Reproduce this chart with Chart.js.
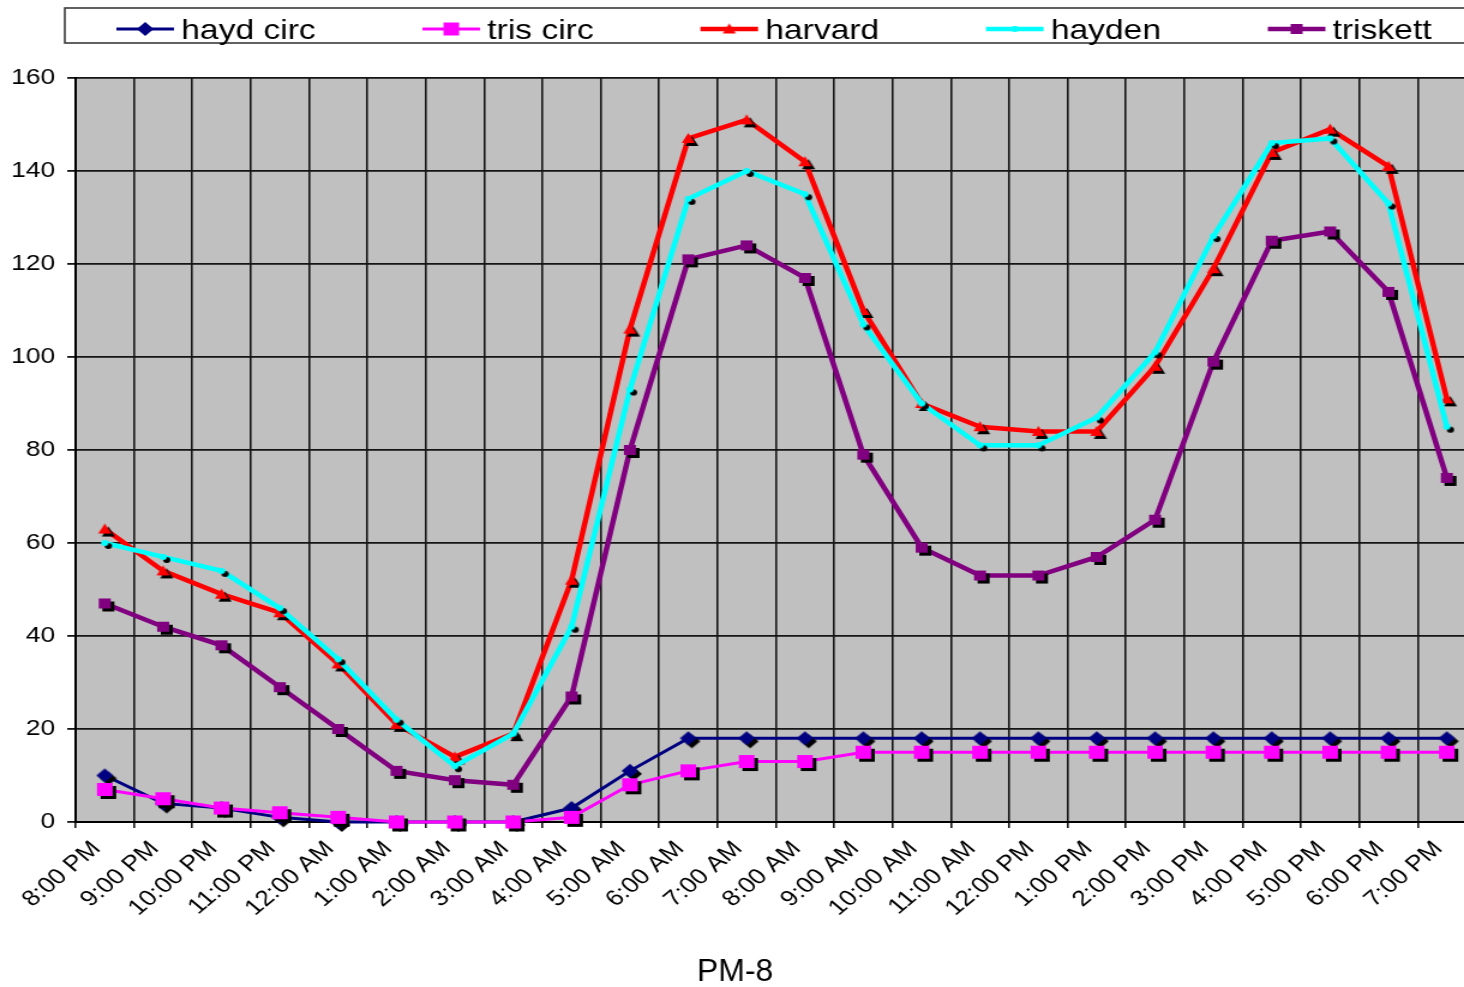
<!DOCTYPE html>
<html>
<head>
<meta charset="utf-8">
<title>PM-8</title>
<script src="https://cdn.jsdelivr.net/npm/chart.js@4.4.1/dist/chart.umd.min.js"></script>
<style>
  html, body { margin: 0; padding: 0; background: #fff; overflow: hidden; }
  #c { display: block; }
</style>
</head>
<body>
<!-- the original picture is stretched sideways, so the canvas is too (inline style so Chart.js keeps it) -->
<canvas id="c" width="1250" height="987" style="width:1500px;height:987px"></canvas>
<script>
const hours = ['8:00 PM', '9:00 PM', '10:00 PM', '11:00 PM', '12:00 AM', '1:00 AM', '2:00 AM', '3:00 AM',
  '4:00 AM', '5:00 AM', '6:00 AM', '7:00 AM', '8:00 AM', '9:00 AM', '10:00 AM', '11:00 AM',
  '12:00 PM', '1:00 PM', '2:00 PM', '3:00 PM', '4:00 PM', '5:00 PM', '6:00 PM', '7:00 PM'];

const haydCirc = [10, 4, 3, 1, 0, 0, 0, 0, 3, 11, 18, 18, 18, 18, 18, 18, 18, 18, 18, 18, 18, 18, 18, 18];
const trisCirc = [7, 5, 3, 2, 1, 0, 0, 0, 1, 8, 11, 13, 13, 15, 15, 15, 15, 15, 15, 15, 15, 15, 15, 15];
const harvard = [63, 54, 49, 45, 34, 21, 14, 19, 52, 106, 147, 151, 142, 110, 90, 85, 84, 84, 98, 119, 144, 149, 141, 91];
const hayden = [60, 57, 54, 46, 35, 22, 12, 19, 42, 93, 134, 140, 135, 107, 90, 81, 81, 87, 101, 126, 146, 147, 133, 85];
const triskett = [47, 42, 38, 29, 20, 11, 9, 8, 27, 80, 121, 124, 117, 79, 59, 53, 53, 57, 65, 99, 125, 127, 114, 74];

const captionText = 'PM-8';
const S = 1500 / 1250;

// small canvas used as point style, with the dark drop shadow Excel puts on markers
function marker(shape, r, color, shadow) {
  const off = shadow ? 3 : 0;
  const size = Math.ceil((r + off) * 2 + 2);
  const cv = document.createElement('canvas');
  cv.width = size;
  cv.height = size;
  const g = cv.getContext('2d');
  const c = size / 2;
  const path = (x, y) => {
    g.beginPath();
    if (shape === 'diamond') {
      g.moveTo(x, y - r); g.lineTo(x + r, y); g.lineTo(x, y + r); g.lineTo(x - r, y);
    } else if (shape === 'square') {
      g.rect(x - r, y - r, 2 * r, 2 * r);
    } else if (shape === 'triangle') {
      g.moveTo(x, y - r); g.lineTo(x + r, y + r * 0.8); g.lineTo(x - r, y + r * 0.8);
    } else {
      g.arc(x, y, r, 0, Math.PI * 2);
    }
    g.closePath();
  };
  if (shadow) {
    path(c + off, c + off);
    g.fillStyle = '#000';
    g.fill();
  }
  path(c, c);
  g.fillStyle = color;
  g.fill();
  return cv;
}

function series(label, data, color, width, shape, r, order) {
  return {
    label: label,
    data: data,
    borderColor: color,
    backgroundColor: color,
    borderWidth: width,
    pointStyle: marker(shape, r, color, true),
    legendIcon: marker(shape, r, color, false),
    pointRadius: r,
    pointHoverRadius: r,
    tension: 0,
    clip: false,
    order: order
  };
}

const plotBackground = {
  id: 'plotBackground',
  beforeDraw(chart) {
    const { ctx, chartArea: a } = chart;
    ctx.save();
    ctx.fillStyle = '#c0c0c0';
    ctx.fillRect(a.left, a.top, a.right - a.left, a.bottom - a.top);
    ctx.restore();
  }
};

// legend drawn as one framed row, like the Excel original
const boxLegend = {
  id: 'boxLegend',
  afterDraw(chart) {
    const ctx = chart.ctx;
    ctx.save();
    ctx.strokeStyle = '#3a3a3a';
    ctx.lineWidth = 1.6;
    ctx.strokeRect(54, 8, chart.width, 35);
    ctx.font = '28px "Liberation Sans", Arial, sans-serif';
    ctx.textBaseline = 'middle';
    let x = 97;
    const y = 29;
    chart.data.datasets.forEach((ds) => {
      ctx.strokeStyle = ds.borderColor;
      ctx.lineWidth = ds.borderWidth;
      ctx.beginPath();
      ctx.moveTo(x, y);
      ctx.lineTo(x + 48, y);
      ctx.stroke();
      const ic = ds.legendIcon;
      ctx.drawImage(ic, x + 24 - ic.width / 2, y - ic.height / 2);
      ctx.fillStyle = '#000';
      ctx.fillText(ds.label, x + 54, y + 2);
      x += 54 + ctx.measureText(ds.label).width + 89;
    });
    ctx.restore();
  }
};

// caption under the chart is not stretched in the original
const caption = {
  id: 'caption',
  afterDraw(chart) {
    const ctx = chart.ctx;
    ctx.save();
    ctx.scale(1 / S, 1);
    ctx.font = '32px "Liberation Sans", Arial, sans-serif';
    ctx.textAlign = 'center';
    ctx.textBaseline = 'alphabetic';
    ctx.fillStyle = '#000';
    ctx.fillText(captionText, 735, 981);
    ctx.restore();
  }
};

const data = {
  labels: hours,
  datasets: [
    series('hayd circ', haydCirc, '#000080', 3, 'diamond', 7, 5),
    series('tris circ', trisCirc, '#ff00ff', 3, 'square', 6.5, 4),
    series('harvard', harvard, '#ff0000', 4.5, 'triangle', 5.5, 3),
    series('hayden', hayden, '#00ffff', 4.5, 'circle', 3, 2),
    series('triskett', triskett, '#800080', 4.5, 'square', 5, 1)
  ]
};

const config = {
  type: 'line',
  data: data,
  options: {
    responsive: false,
    animation: false,
    devicePixelRatio: 1,
    events: [],
    layout: { padding: { top: 78, right: 20, bottom: 0, left: 0 } },
    plugins: {
      legend: { display: false },
      tooltip: { enabled: false },
      title: { display: false }
    },
    scales: {
      x: {
        offset: true,
        grid: { offset: true, color: '#151515', lineWidth: 1.6, tickLength: 6 },
        border: { color: '#000', width: 2 },
        ticks: {
          color: '#000',
          font: { family: '"Liberation Sans", Arial, sans-serif', size: 22 },
          minRotation: 45,
          maxRotation: 45,
          autoSkip: false,
          padding: 8,
          labelOffset: -7
        },
        afterFit(s) { s.height = 165; }
      },
      y: {
        min: 0,
        max: 160,
        ticks: {
          stepSize: 20,
          color: '#000',
          font: { family: '"Liberation Sans", Arial, sans-serif', size: 22 },
          padding: 10
        },
        grid: { color: '#151515', lineWidth: 1.8, tickLength: 7 },
        border: { color: '#000', width: 2 },
        afterFit(s) { s.width = 63; }
      }
    }
  },
  plugins: [plotBackground, boxLegend, caption]
};

const myChart = new Chart(document.getElementById('c'), config);
</script>
</body>
</html>
